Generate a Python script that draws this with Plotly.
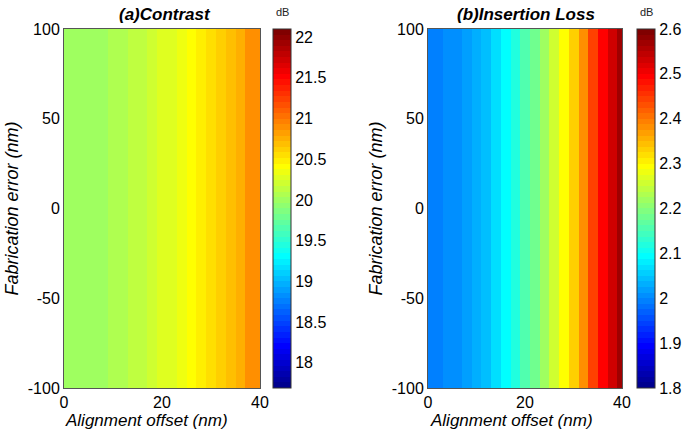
import plotly.graph_objects as go

# ---- data ----
offset_nm = [0, 2, 4, 6, 8, 10, 12, 14, 16, 18, 20, 22, 24, 26, 28, 30, 32, 34, 36, 38, 40]
fab_error_nm = [-100, -50, 0, 50, 100]
contrast_db = [19.99, 20.00, 20.01, 20.02, 20.03, 20.06, 20.09, 20.13, 20.16, 20.20, 20.25,
               20.30, 20.36, 20.43, 20.50, 20.57, 20.64, 20.72, 20.79, 20.86, 20.91]
insertion_loss_db = [1.990, 1.995, 2.000, 2.008, 2.017, 2.030, 2.045, 2.065, 2.090, 2.120, 2.150,
                     2.185, 2.220, 2.255, 2.290, 2.330, 2.385, 2.440, 2.490, 2.530, 2.565]
contrast_ticks = [18, 18.5, 19, 19.5, 20, 20.5, 21, 21.5, 22]
contrast_labels = ["18", "18.5", "19", "19.5", "20", "20.5", "21", "21.5", "22"]
loss_ticks = [1.8, 1.9, 2.0, 2.1, 2.2, 2.3, 2.4, 2.5, 2.6]
loss_labels = ["1.8", "1.9", "2", "2.1", "2.2", "2.3", "2.4", "2.5", "2.6"]
y_ticks = [-100, -50, 0, 50, 100]
y_labels = ["-100", "-50", "0", "50", "100"]
x_ticks = [0, 20, 40]


def jet64():
    """MATLAB-like jet colormap with 64 discrete levels."""
    n = 64
    stops = []
    for k in range(1, n + 1):
        if k <= 24:
            r = 0.0
        elif k <= 40:
            r = (k - 24) / 16
        elif k <= 56:
            r = 1.0
        else:
            r = 1 - (k - 56) / 16
        if k <= 8:
            g = 0.0
        elif k <= 24:
            g = (k - 8) / 16
        elif k <= 40:
            g = 1.0
        elif k <= 56:
            g = 1 - (k - 40) / 16
        else:
            g = 0.0
        if k <= 8:
            b = (k + 8) / 16
        elif k <= 24:
            b = 1.0
        elif k <= 40:
            b = 1 - (k - 24) / 16
        else:
            b = 0.0
        col = "rgb(%d,%d,%d)" % (round(r * 255), round(g * 255), round(b * 255))
        stops.append([(k - 1) / n, col])
        stops.append([k / n, col])
    return stops


JET = jet64()
FONT = "Liberation Sans, Arial, sans-serif"
W, H = 685, 432

# pixel layout -> paper fractions
def fx(px):
    return px / W

def fy(py):
    return 1 - py / H

top_px, bot_px = 29, 388
cb_common = dict(
    thickness=18, thicknessmode="pixels",
    len=fy(top_px) - fy(bot_px), lenmode="fraction",
    y=fy(bot_px), yanchor="bottom", xanchor="left", xpad=0, ypad=0,
    outlinewidth=1, outlinecolor="#333",
    ticks="", tickfont=dict(family=FONT, size=16, color="black"),
)

fig = go.Figure()
fig.add_trace(go.Heatmap(
    x=offset_nm, y=fab_error_nm, z=[contrast_db for _ in fab_error_nm],
    colorscale=JET, zmin=17.69, zmax=22.1,
    colorbar=dict(cb_common, x=fx(273), tickvals=contrast_ticks, ticktext=contrast_labels),
    xaxis="x", yaxis="y", hoverinfo="skip",
))
fig.add_trace(go.Heatmap(
    x=offset_nm, y=fab_error_nm, z=[insertion_loss_db for _ in fab_error_nm],
    colorscale=JET, zmin=1.8, zmax=2.6,
    colorbar=dict(cb_common, x=fx(637), tickvals=loss_ticks, ticktext=loss_labels),
    xaxis="x2", yaxis="y2", hoverinfo="skip",
))

axis_font = dict(family=FONT, size=16, color="black")

def xaxis(dom, anchor):
    return dict(domain=dom, anchor=anchor, range=[0, 40], tickvals=x_ticks,
                showgrid=False, zeroline=False, showline=True, linecolor="#555",
                linewidth=1, mirror=True, ticks="", tickfont=axis_font, automargin=False)

def yaxis(anchor):
    return dict(domain=[fy(bot_px), fy(top_px)], anchor=anchor, range=[-100, 100],
                tickvals=y_ticks, ticktext=y_labels, showgrid=False, zeroline=False,
                showline=True, linecolor="#555", linewidth=1, mirror=True, ticks="",
                tickfont=axis_font, automargin=False,
                title=dict(text="Fabrication error (nm)",
                           font=dict(family=FONT, size=18, color="black", style="italic"),
                           standoff=4))

title_ann_font = dict(family=FONT, size=17, color="black", style="italic", weight="bold")
xlab_font = dict(family=FONT, size=17, color="black", style="italic")
db_font = dict(family=FONT, size=11, color="#222")

def ann(text, xpx, ypx, font):
    return dict(text=text, x=fx(xpx), y=fy(ypx), xref="paper", yref="paper",
                xanchor="center", yanchor="middle", showarrow=False, font=font)

fig.update_layout(
    width=W, height=H,
    margin=dict(l=0, r=0, t=0, b=0, autoexpand=False),
    paper_bgcolor="white", plot_bgcolor="white",
    xaxis=xaxis([fx(64), fx(260)], "y"),
    yaxis=yaxis("x"),
    xaxis2=xaxis([fx(428), fx(622)], "y2"),
    yaxis2=yaxis("x2"),
    annotations=[
        ann("(a)Contrast", 165, 15, title_ann_font),
        ann("(b)Insertion Loss", 526, 15, title_ann_font),
        ann("Alignment offset (nm)", 146, 420, xlab_font),
        ann("Alignment offset (nm)", 511, 420, xlab_font),
        ann("dB", 282, 12, db_font),
        ann("dB", 646, 12, db_font),
    ],
    showlegend=False,
)

fig.write_html("out.html", config={"displayModeBar": False},
               post_script="document.body.style.margin='0px';")
